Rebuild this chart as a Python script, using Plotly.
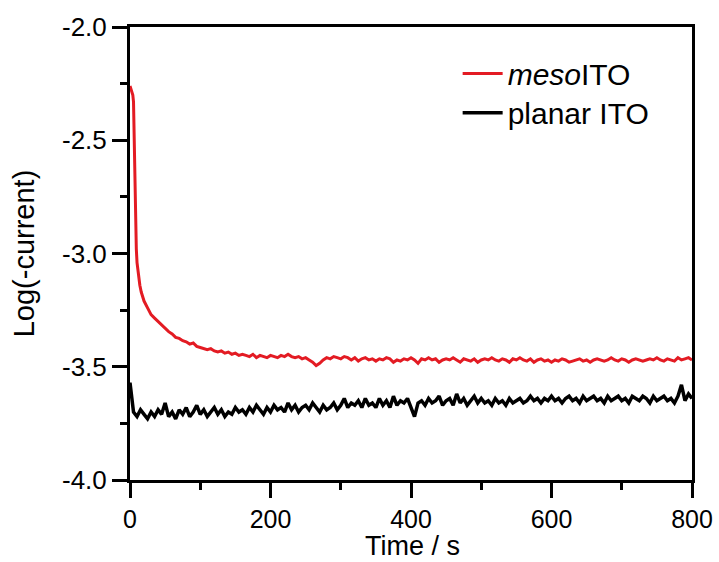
import plotly.graph_objects as go

# ---- data ----
red_time = [0, 1, 2, 3, 4, 5, 6, 7, 8, 9, 10, 12, 14, 16, 18, 20] + list(range(25, 801, 5))
red_vals = [
    -2.26, -2.27, -2.28, -2.29, -2.30, -2.33, -2.50, -2.72, -2.88, -2.98, -3.04, -3.10, -3.14, -3.17, -3.19, -3.21,
    # 25 .. 120
    -3.24, -3.27, -3.285, -3.30, -3.315, -3.33, -3.345, -3.355, -3.37, -3.375, -3.385, -3.39, -3.40, -3.395,
    -3.41, -3.415, -3.42, -3.425, -3.42, -3.43,
    # 125 .. 220
    -3.435, -3.43, -3.44, -3.435, -3.445, -3.44, -3.45, -3.445, -3.45, -3.455, -3.445, -3.46, -3.45, -3.455,
    -3.46, -3.45, -3.455, -3.46, -3.45, -3.455,
    # 225 .. 320
    -3.445, -3.455, -3.46, -3.455, -3.465, -3.46, -3.47, -3.48, -3.495, -3.485, -3.47, -3.46, -3.465, -3.455,
    -3.46, -3.465, -3.455, -3.46, -3.47, -3.46,
    # 325 .. 420
    -3.475, -3.465, -3.46, -3.47, -3.465, -3.475, -3.465, -3.47, -3.46, -3.465, -3.48, -3.47, -3.475, -3.465,
    -3.47, -3.46, -3.47, -3.485, -3.465, -3.47,
    # 425 .. 520
    -3.46, -3.47, -3.465, -3.48, -3.47, -3.465, -3.47, -3.46, -3.47, -3.48, -3.465, -3.47, -3.475, -3.465,
    -3.48, -3.47, -3.465, -3.47, -3.46, -3.47,
    # 525 .. 620
    -3.475, -3.465, -3.47, -3.48, -3.465, -3.47, -3.46, -3.47, -3.475, -3.465, -3.48, -3.47, -3.465, -3.475,
    -3.47, -3.48, -3.47, -3.475, -3.465, -3.47,
    # 625 .. 720
    -3.48, -3.475, -3.47, -3.465, -3.475, -3.47, -3.48, -3.47, -3.465, -3.47, -3.475, -3.47, -3.46, -3.47,
    -3.475, -3.465, -3.47, -3.48, -3.47, -3.465,
    # 725 .. 800
    -3.47, -3.475, -3.47, -3.465, -3.47, -3.46, -3.47, -3.475, -3.465, -3.47, -3.475, -3.46, -3.47, -3.465,
    -3.46, -3.47,
]

black_time = list(range(0, 801, 5))
black_vals = [
    # 0 .. 95
    -3.57, -3.70, -3.72, -3.69, -3.71, -3.73, -3.70, -3.72, -3.69, -3.71, -3.66, -3.72, -3.70, -3.73, -3.69,
    -3.71, -3.68, -3.72, -3.70, -3.67,
    # 100 .. 195
    -3.71, -3.69, -3.72, -3.70, -3.68, -3.71, -3.69, -3.72, -3.70, -3.71, -3.68, -3.70, -3.69, -3.71, -3.68,
    -3.70, -3.67, -3.69, -3.71, -3.68,
    # 200 .. 295
    -3.70, -3.67, -3.69, -3.68, -3.70, -3.66, -3.69, -3.67, -3.70, -3.68, -3.67, -3.69, -3.66, -3.68, -3.70,
    -3.67, -3.69, -3.68, -3.66, -3.69,
    # 300 .. 395
    -3.67, -3.64, -3.68, -3.66, -3.67, -3.65, -3.68, -3.64, -3.67, -3.66, -3.68, -3.64, -3.67, -3.65, -3.68,
    -3.63, -3.67, -3.65, -3.66, -3.64,
    # 400 .. 495
    -3.68, -3.72, -3.66, -3.65, -3.67, -3.64, -3.66, -3.65, -3.63, -3.67, -3.65, -3.64, -3.67, -3.62, -3.66,
    -3.64, -3.67, -3.65, -3.63, -3.66,
    # 500 .. 595
    -3.64, -3.66, -3.65, -3.67, -3.64, -3.66, -3.65, -3.67, -3.64, -3.66, -3.65, -3.64, -3.66, -3.65, -3.63,
    -3.65, -3.64, -3.66, -3.64, -3.65,
    # 600 .. 695
    -3.63, -3.65, -3.64, -3.66, -3.64, -3.63, -3.65, -3.64, -3.66, -3.63, -3.65, -3.64, -3.63, -3.65, -3.64,
    -3.66, -3.63, -3.65, -3.64, -3.63,
    # 700 .. 800
    -3.65, -3.64, -3.66, -3.63, -3.64, -3.65, -3.63, -3.64, -3.66, -3.63, -3.65, -3.64, -3.63, -3.65, -3.64,
    -3.66, -3.63, -3.58, -3.65, -3.62, -3.64,
]

series_names = ["<i>meso</i>ITO", "planar ITO"]
series_colors = ["#E31B23", "#000000"]

x_title = "Time / s"
y_title = "Log(-current)"
x_tickvals = [0, 200, 400, 600, 800]
x_ticktext = ["0", "200", "400", "600", "800"]
x_minor = [100, 300, 500, 700]
y_tickvals = [-4.0, -3.5, -3.0, -2.5, -2.0]
y_ticktext = ["-4.0", "-3.5", "-3.0", "-2.5", "-2.0"]
y_minor = [-3.75, -3.25, -2.75, -2.25]

FONT = "Liberation Sans, Arial, sans-serif"

fig = go.Figure()
fig.add_trace(go.Scatter(x=red_time, y=red_vals, mode="lines", name=series_names[0],
                         line=dict(color=series_colors[0], width=3), legend="legend"))
fig.add_trace(go.Scatter(x=black_time, y=black_vals, mode="lines", name=series_names[1],
                         line=dict(color=series_colors[1], width=3.5), legend="legend2"))

axis_common = dict(showline=True, linecolor="black", linewidth=3, mirror=True,
                   ticks="outside", ticklen=15, tickwidth=3, tickcolor="black",
                   showgrid=False, zeroline=False, automargin=False)

fig.update_xaxes(range=[0, 800], tickmode="array", tickvals=x_tickvals, ticktext=x_ticktext,
                 tickfont=dict(family=FONT, size=25, color="black"),
                 minor=dict(tickmode="array", tickvals=x_minor, ticks="outside", ticklen=7,
                            tickwidth=3, tickcolor="black", showgrid=False),
                 **axis_common)
fig.update_yaxes(range=[-4.0, -2.0], tickmode="array", tickvals=y_tickvals, ticktext=y_ticktext,
                 tickfont=dict(family=FONT, size=26, color="black"),
                 minor=dict(tickmode="array", tickvals=y_minor, ticks="outside", ticklen=7,
                            tickwidth=3, tickcolor="black", showgrid=False),
                 title=dict(text=y_title, font=dict(family=FONT, size=29, color="black"), standoff=19),
                 **axis_common)

fig.add_annotation(text=x_title, xref="paper", yref="paper", x=0.502, y=-0.181,
                   xanchor="center", yanchor="bottom", showarrow=False, borderpad=0,
                   font=dict(family=FONT, size=27, color="black"))

legend_common = dict(xanchor="left", yanchor="top",
                     font=dict(family=FONT, size=30, color="black"),
                     bgcolor="rgba(0,0,0,0)", itemwidth=40)

fig.update_layout(
    width=719, height=562,
    margin=dict(l=130, r=27, t=27, b=82),
    paper_bgcolor="white", plot_bgcolor="white",
    showlegend=True,
    legend=dict(x=0.583, y=0.955, **legend_common),
    legend2=dict(x=0.583, y=0.868, **legend_common),
)

fig.write_html("out.html")
